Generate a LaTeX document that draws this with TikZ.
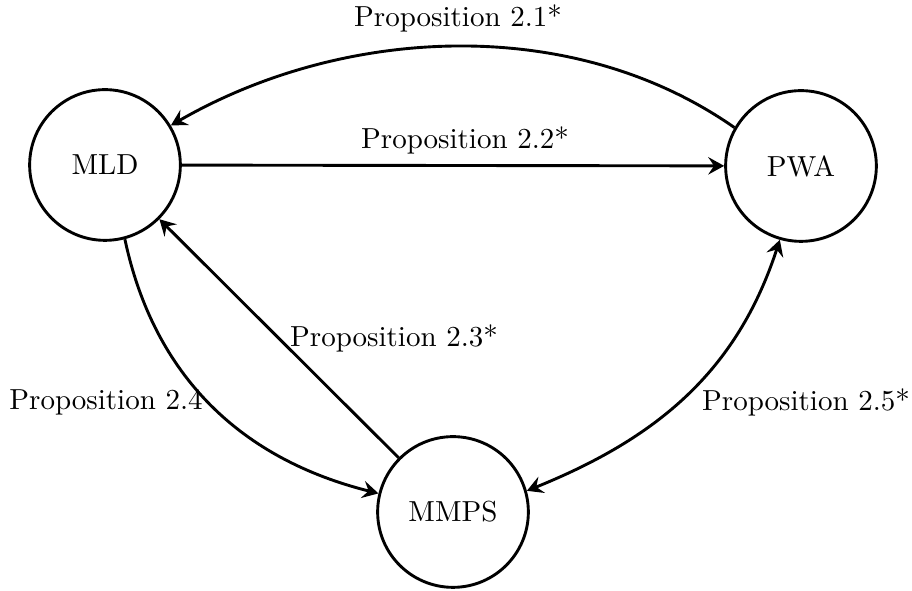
\documentclass[tikz,border=0pt]{standalone}
\usetikzlibrary{arrows.meta}
\begin{document}
\begin{tikzpicture}[x=0.345pt,y=-0.345pt,
  state/.style={circle,draw,line width=1pt,minimum size=52pt,inner sep=0pt},
  tip/.style={Stealth[length=5.5pt,width=6pt,inset=2pt]},
  conn/.style={line width=1pt,-{Stealth[length=5.5pt,width=6pt,inset=2pt]}},
  lbl/.style={inner sep=0pt}]
\useasboundingbox (0,0) rectangle (912,591);
\node[state] (MLD) at (105,165) {MLD};
\node[state] (PWA) at (801,166) {PWA};
\node[state] (MMPS) at (453,512) {MMPS};
\draw[conn] (PWA.150) to[out=145,in=30,looseness=0.9] (MLD.31);
\draw[conn] (MLD) -- (PWA);
\draw[conn] (MMPS) -- (MLD);
\draw[conn] (MLD.-75) to[out=-78,in=166] (MMPS.166);
\draw[line width=1pt,{Stealth[length=5.5pt,width=6pt,inset=2pt]}-{Stealth[length=5.5pt,width=6pt,inset=2pt]}] (MMPS.16) to[out=22,in=-108] (PWA.-106);
\node[lbl] (l21) at (458,18) {Proposition 2.1*};
\node[lbl] (l22) at (465,140) {Proposition 2.2*};
\node[lbl] (l23) at (394,338) {Proposition 2.3*};
\node[lbl] (l24) at (106,402) {Proposition 2.4};
\node[lbl] (l25) at (806,402) {Proposition 2.5*};
\end{tikzpicture}
\end{document}
